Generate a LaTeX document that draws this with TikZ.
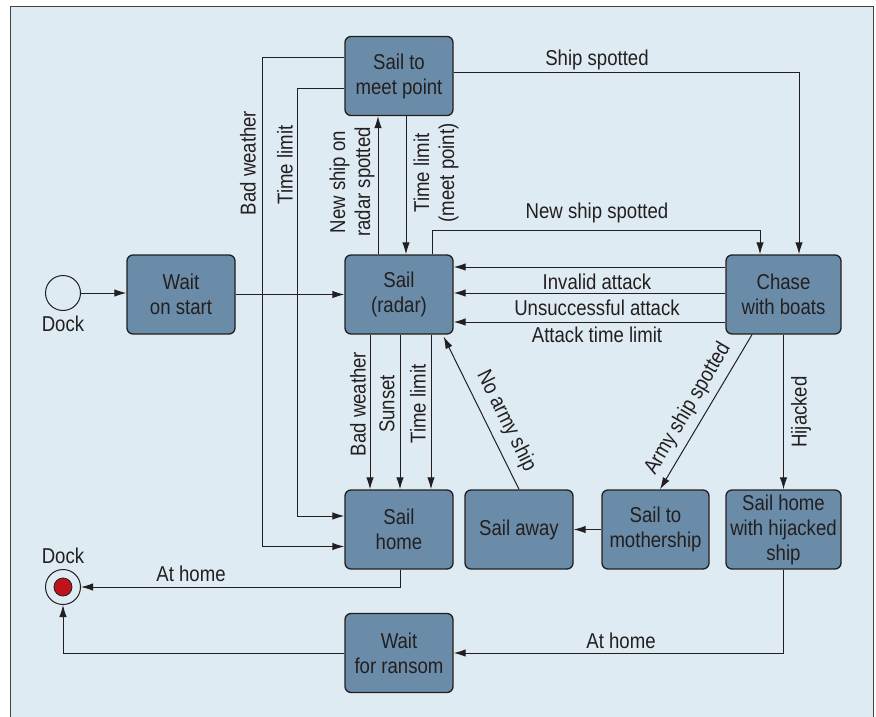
\documentclass[tikz,border=0pt]{standalone}
\usepackage{fontspec}
\setmainfont[FakeStretch=0.865]{Liberation Sans}
\usetikzlibrary{arrows.meta}
\definecolor{bgblue}{HTML}{DEEBF2}
\definecolor{boxblue}{HTML}{6A8CA8}
\definecolor{ink}{HTML}{231F20}
\definecolor{dockred}{HTML}{C1121C}
\begin{document}
\begin{tikzpicture}[x=1pt,y=-1pt,
  every node/.style={font=\fontsize{21.5}{25}\selectfont, text=ink},
  state/.style={draw=ink, fill=boxblue, rounded corners=6pt, minimum width=108pt, minimum height=79pt, align=center, line width=1.3pt, inner sep=0pt},
  conn/.style={draw=ink, line width=1pt, -{Latex[length=12pt,width=7.5pt]}},
  lbl/.style={inner sep=0pt},
  dockcirc/.style={circle, draw=ink, line width=1pt, inner sep=0pt}]
\useasboundingbox (0,0) rectangle (876,717);
\fill[white] (0,0) rectangle (876,717);
\fill[bgblue] (10,7) rectangle (873,717);
\draw[ink!85, line width=1pt] (10,717) -- (10,7) -- (873,7) -- (873,717);

% states
\node[state] (meet) at (399,76) {Sail to\\meet point};
\node[state] (wait) at (181,294.5) {Wait\\on start};
\node[state] (radar) at (399,294.5) {Sail\\(radar)};
\node[state, minimum width=115pt] (chase) at (783.5,294.5) {Chase\\with boats};
\node[state] (home) at (399,529.5) {Sail\\home};
\node[state] (away) at (519,529.5) {Sail away};
\node[state, minimum width=107pt] (mother) at (655.5,529.5) {Sail to\\mothership};
\node[state, minimum width=115pt] (hijack) at (783.5,529.5) {Sail home\\with hijacked\\ship};
\node[state] (ransom) at (399,653) {Wait\\for ransom};

% docks
\node[dockcirc, minimum size=35pt] (start) at (63,293) {};
\node[lbl] (startlbl) at (63,324) {Dock};
\node[dockcirc, minimum size=35pt] (final) at (63,587) {};
\node[dockcirc, fill=dockred, minimum size=18pt, line width=0.8pt] (finalin) at (63,587) {};
\node[lbl] (finallbl) at (63,556) {Dock};

% connectors
\draw[conn] (start.east) -- (wait.west |- start.east);
\draw[conn] (wait) -- (radar);
\draw[conn] ([yshift=18pt]meet.west) -| ([xshift=-82pt,yshift=-17pt]home.west) -- ([yshift=-17pt]home.west);
\draw[conn] ([yshift=-13pt]meet.west) -| ([xshift=-47pt,yshift=13.5pt]home.west) -- ([yshift=13.5pt]home.west);
\draw[conn] ([xshift=-21pt]radar.north) -- ([xshift=-21pt]meet.south);
\draw[conn] ([xshift=7pt]meet.south) -- ([xshift=7pt]radar.north);
\draw[conn] ([xshift=33pt]radar.north) -- ++(0,-24) -| ([xshift=-23.5pt]chase.north);
\draw[conn] ([yshift=3pt]meet.east) -| ([xshift=15.5pt]chase.north);
\draw[conn] ([yshift=27.5pt]chase.west) -- ([yshift=27.5pt]radar.east);
\draw[conn] ([yshift=1.5pt]chase.west) -- ([yshift=1.5pt]radar.east);
\draw[conn] ([yshift=-27.5pt]chase.west) -- ([yshift=-27.5pt]radar.east);
\draw[conn] ([xshift=-29pt]radar.south) -- ([xshift=-29pt]home.north);
\draw[conn] ([xshift=1pt]radar.south) -- ([xshift=1pt]home.north);
\draw[conn] ([xshift=32pt]radar.south) -- ([xshift=32pt]home.north);
\draw[conn] (away.north) -- ([xshift=-10pt,yshift=-2pt]radar.south east);
\draw[conn] ([xshift=-31.5pt]chase.south) -- ([xshift=4.5pt]mother.north);
\draw[conn] (chase.south) -- (hijack.north);
\draw[conn] (mother.west) -- (away.east);
\draw[conn] ([xshift=1pt]home.south) |- (final.east);
\draw[conn] (hijack.south) |- (ransom.east);
\draw[conn] (ransom.west) -| (final.south);

% labels
\node[lbl, rotate=90] (lbw1) at (248,163) {Bad weather};
\node[lbl, rotate=90] (ltl1) at (285,165) {Time limit};
\node[lbl, rotate=90, align=center] (lnew) at (352,182) {New ship on\\radar spotted};
\node[lbl, rotate=90, align=center] (ltlm) at (436,173) {Time limit\\(meet point)};
\node[lbl] (lship) at (597,60) {Ship spotted};
\node[lbl] (lnewship) at (597,213) {New ship spotted};
\node[lbl] (linv) at (597,282) {Invalid attack};
\node[lbl] (lunsucc) at (597,308) {Unsuccessful attack};
\node[lbl] (latl) at (597,335) {Attack time limit};
\node[lbl, rotate=90] (lbw2) at (358,404) {Bad weather};
\node[lbl, rotate=90] (lsun) at (387,404) {Sunset};
\node[lbl, rotate=90] (ltl2) at (418,404) {Time limit};
\node[lbl, rotate=-63.7] (lnoarmy) at (506,421) {No army ship};
\node[lbl, rotate=59.5] (larmy) at (688,409) {Army ship spotted};
\node[lbl, rotate=90] (lhij) at (801,412) {Hijacked};
\node[lbl] (lhome1) at (191,574) {At home};
\node[lbl] (lhome2) at (621,641) {At home};
\end{tikzpicture}
\end{document}
